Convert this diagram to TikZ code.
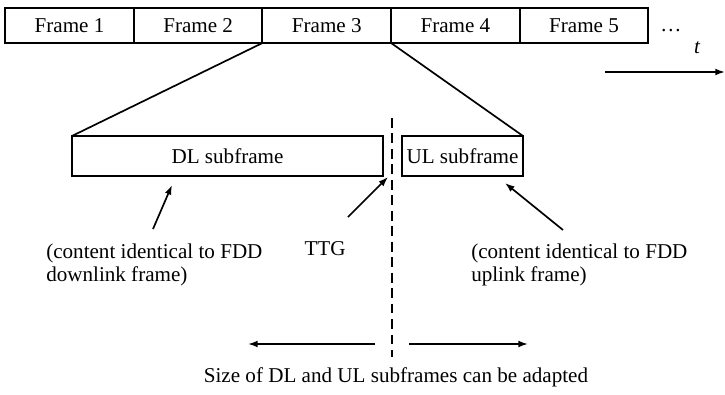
\documentclass[tikz,border=0pt]{standalone}
\usepackage{fontspec}
\setmainfont{Liberation Serif}
\usetikzlibrary{
    arrows.meta,
    positioning
}

\begin{document}
\begin{tikzpicture}[
        x=0.025cm, y=-0.025cm,
        every node/.style={font=\fontsize{15}{16.5}\selectfont},
        frame/.style={draw, line width=1.4pt, minimum width=3.215cm, minimum height=0.875cm,
                      inner sep=1pt, outer sep=0pt, text centered},
        sub/.style={draw, line width=1.4pt, minimum height=1.0cm, inner sep=2pt, outer sep=0pt,
                    text centered},
        note/.style={align=left, inner sep=0pt},
        arr/.style={-{Latex[length=2.4mm, width=1.7mm]}, line width=1.2pt},
        link/.style={line width=1.2pt},
        gap/.style={line width=1.3pt, dash pattern=on 7pt off 4pt},
    ]
        \useasboundingbox (0,0) rectangle (725,395);

        % Frame row
        \node[frame] (f1) at (69.5,25.5) {Frame 1};
        \node[frame, right=0pt of f1] (f2) {Frame 2};
        \node[frame, right=0pt of f2] (f3) {Frame 3};
        \node[frame, right=0pt of f3] (f4) {Frame 4};
        \node[frame, right=0pt of f4] (f5) {Frame 5};
        \node[anchor=base] (more) at (671,31) {\dots};
        \node (tlab) at (697,48) {\itshape t};
        \coordinate (tstart) at (605,72);
        \coordinate (tend) at (725,72);
        \draw[arr] (tstart) -- (tend);

        % Subframes
        \node[sub, minimum width=7.775cm] (dl) at (227.5,156) {DL subframe};
        \node[sub, minimum width=3.025cm] (ul) at (462.5,156) {UL subframe};
        \draw[link] (f3.south west) -- (dl.north west);
        \draw[link] (f3.south east) -- (ul.north east);

        % TTG boundary
        \coordinate (gtop) at (392,118);
        \coordinate (gbot) at (392,357);
        \draw[gap] (gtop) -- (gbot);

        % Notes
        \node[note, anchor=west] (dlnote) at (46,265) {(content identical to FDD\\downlink frame)};
        \node (ttg) at (325,249) {TTG};
        \node[note, anchor=west] (ulnote) at (471,265) {(content identical to FDD\\uplink frame)};
        \coordinate (dltail) at (153,229);
        \coordinate (dlhead) at (172,185);
        \coordinate (ttgtail) at (348,217);
        \coordinate (ttghead) at (388,177);
        \coordinate (ultail) at (563,230);
        \coordinate (ulhead) at (505,183);
        \draw[arr] (dltail) -- (dlhead);
        \draw[arr] (ttgtail) -- (ttghead);
        \draw[arr] (ultail) -- (ulhead);

        % Adaptable size
        \coordinate (lstart) at (375,344);
        \coordinate (lend) at (248,344);
        \coordinate (rstart) at (409,344);
        \coordinate (rend) at (528,344);
        \draw[arr] (lstart) -- (lend);
        \draw[arr] (rstart) -- (rend);
        \node (size) at (396,377) {Size of DL and UL subframes can be adapted};
    \end{tikzpicture}
\end{document}
